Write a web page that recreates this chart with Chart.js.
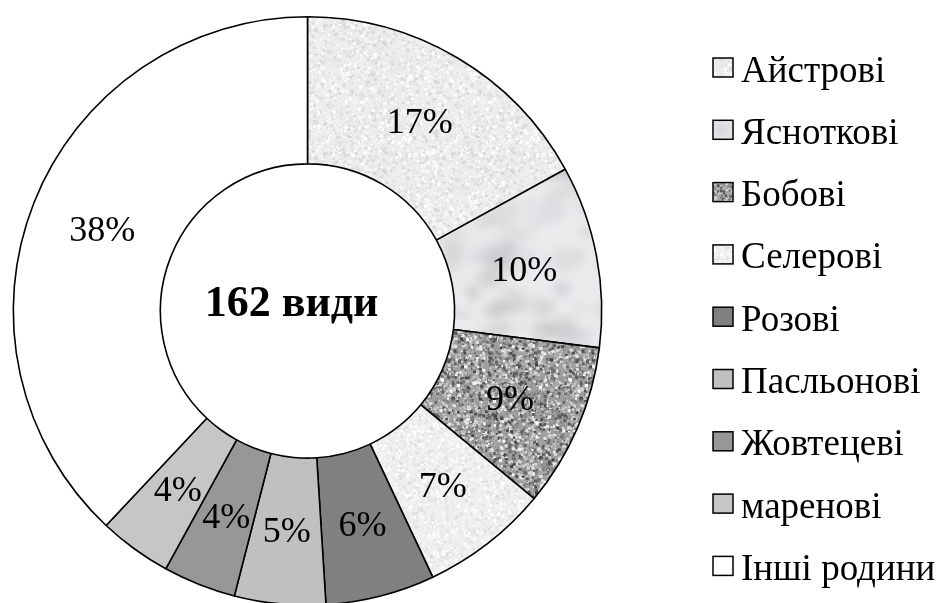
<!DOCTYPE html>
<html>
<head>
<meta charset="utf-8">
<script src="https://cdn.jsdelivr.net/npm/chart.js@4.4.1/dist/chart.umd.min.js"></script>
<style>
  html, body { margin: 0; padding: 0; background: #ffffff; overflow: hidden; }
  #wrap { position: relative; width: 940px; height: 610px; }
</style>
</head>
<body>
<div id="wrap"><canvas id="c"></canvas></div>
<script>
// ---- data ----
const categories = ['Айстрові', 'Ясноткові', 'Бобові', 'Селерові', 'Розові', 'Пасльонові', 'Жовтецеві', 'маренові', 'Інші родини'];
const shares = [17, 10, 9, 7, 6, 5, 4, 4, 38];
const percentLabels = ['17%', '10%', '9%', '7%', '6%', '5%', '4%', '4%', '38%'];
const centerLabel = '162 види';

// ---- textures (style only, deterministic) ----
function rng(seed) {
  return function () {
    seed |= 0; seed = seed + 0x6D2B79F5 | 0;
    let t = Math.imul(seed ^ seed >>> 15, 1 | seed);
    t = t + Math.imul(t ^ t >>> 7, 61 | t) ^ t;
    return ((t ^ t >>> 14) >>> 0) / 4294967296;
  };
}
function gray(v) { v = Math.max(0, Math.min(255, Math.round(v))); return 'rgb(' + v + ',' + v + ',' + v + ')'; }

// seamless blur: tile 3x3 unblurred, blur the whole, crop the centre
function blurTile(src, S, blur) {
  const big = document.createElement('canvas'); big.width = 3 * S; big.height = 3 * S;
  const bx = big.getContext('2d');
  for (let i = 0; i < 3; i++) for (let j = 0; j < 3; j++) bx.drawImage(src, i * S, j * S);
  const o = document.createElement('canvas'); o.width = S; o.height = S;
  const ox = o.getContext('2d');
  ox.filter = 'blur(' + blur + 'px)';
  ox.drawImage(big, -S, -S);
  return o;
}

function speckle(seed, base, spread, count, maxSize, blur) {
  const r = rng(seed), S = 128;
  const c = document.createElement('canvas'); c.width = S; c.height = S;
  const x = c.getContext('2d');
  x.fillStyle = gray(base); x.fillRect(0, 0, S, S);
  for (let i = 0; i < count; i++) {
    const px = r() * S, py = r() * S, s = 1 + r() * maxSize;
    x.fillStyle = gray(base + (r() - 0.5) * spread);
    for (let dx = -1; dx <= 0; dx++) for (let dy = -1; dy <= 0; dy++) x.fillRect(px + dx * S, py + dy * S, s, s);
  }
  return blurTile(c, S, blur);
}
function marble(seed) {
  const r = rng(seed), S = 160;
  const c = document.createElement('canvas'); c.width = S; c.height = S;
  const x = c.getContext('2d');
  x.fillStyle = '#ebebee'; x.fillRect(0, 0, S, S);
  for (let i = 0; i < 55; i++) {
    const px = r() * S, py = r() * S, rw = 6 + r() * 22, rh = 3 + r() * 9, rot = r() * 0.8 - 0.4, v = 185 + r() * 55, a = 0.35 + r() * 0.3;
    x.fillStyle = 'rgba(' + Math.round(v) + ',' + Math.round(v) + ',' + Math.round(v + 3) + ',' + a + ')';
    for (let dx = -1; dx <= 1; dx++) for (let dy = -1; dy <= 1; dy++) {
      x.beginPath(); x.ellipse(px + dx * S, py + dy * S, rw, rh, rot, 0, Math.PI * 2); x.fill();
    }
  }
  const soft = blurTile(c, S, 5);
  const c2 = document.createElement('canvas'); c2.width = S; c2.height = S;
  const x2 = c2.getContext('2d');
  for (let i = 0; i < 14; i++) {
    const px = r() * S, py = r() * S, v = 140 + r() * 60, rw = 4 + r() * 9, rh = 1 + r() * 2, rot = r() * 0.8 - 0.4;
    x2.fillStyle = 'rgba(' + Math.round(v) + ',' + Math.round(v) + ',' + Math.round(v) + ',0.45)';
    for (let dx = -1; dx <= 1; dx++) for (let dy = -1; dy <= 1; dy++) {
      x2.beginPath(); x2.ellipse(px + dx * S, py + dy * S, rw, rh, rot, 0, Math.PI * 2); x2.fill();
    }
  }
  soft.getContext('2d').drawImage(blurTile(c2, S, 1.5), 0, 0);
  return soft;
}

const ctx = document.getElementById('c').getContext('2d');
const tex = [
  speckle(11, 236, 46, 2600, 2.2, 0.7),
  marble(23),
  speckle(37, 158, 190, 3400, 2.4, 0.75),
  speckle(41, 239, 40, 2400, 2.2, 0.7)
];
const fills = [
  ctx.createPattern(tex[0], 'repeat'),
  ctx.createPattern(tex[1], 'repeat'),
  ctx.createPattern(tex[2], 'repeat'),
  ctx.createPattern(tex[3], 'repeat'),
  '#808080',
  '#c0c0c0',
  '#979797',
  '#c6c6c6',
  '#ffffff'
];

// ---- plugins ----
const sliceLabels = {
  id: 'sliceLabels',
  afterDatasetsDraw(chart) {
    const c = chart.ctx;
    const meta = chart.getDatasetMeta(0);
    c.save();
    c.font = '36px "Liberation Serif", "Times New Roman", serif';
    c.fillStyle = '#000';
    c.textAlign = 'center';
    c.textBaseline = 'middle';
    meta.data.forEach((arc, i) => {
      const p = arc.tooltipPosition();
      c.fillText(percentLabels[i], p.x, p.y + 2);
    });
    // centre caption
    const a = meta.data[0];
    c.font = 'bold 44px "Liberation Serif", "Times New Roman", serif';
    c.fillText(centerLabel, a.x - 16, a.y - 6);
    c.restore();
  }
};

const sideLegend = {
  id: 'sideLegend',
  afterDraw(chart) {
    const c = chart.ctx;
    const labels = chart.data.labels;
    const bg = chart.data.datasets[0].backgroundColor;
    c.save();
    c.font = '37px "Liberation Serif", "Times New Roman", serif';
    c.textBaseline = 'alphabetic';
    c.textAlign = 'left';
    const bx = 713, bw = 20, bh = 19, top = 58, step = 62.3;
    labels.forEach((lab, i) => {
      const y = top + i * step;
      c.fillStyle = bg[i];
      c.fillRect(bx, y, bw, bh);
      c.lineWidth = 1.5;
      c.strokeStyle = '#000';
      c.strokeRect(bx, y, bw, bh);
      c.fillStyle = '#000';
      c.fillText(lab, 741, y + 23.5);
    });
    c.restore();
  }
};

new Chart(ctx, {
  type: 'doughnut',
  data: {
    labels: categories,
    datasets: [{
      data: shares,
      backgroundColor: fills,
      borderColor: '#000000',
      borderWidth: 1.6,
      borderAlign: 'center'
    }]
  },
  options: {
    responsive: true,
    maintainAspectRatio: false,
    animation: false,
    cutout: '50%',
    rotation: 0,
    layout: { padding: { top: 16, bottom: 4, left: 12, right: 337 } },
    plugins: {
      legend: { display: false },
      tooltip: { enabled: false },
      title: { display: false }
    },
    events: []
  },
  plugins: [sliceLabels, sideLegend]
});
</script>
</body>
</html>
